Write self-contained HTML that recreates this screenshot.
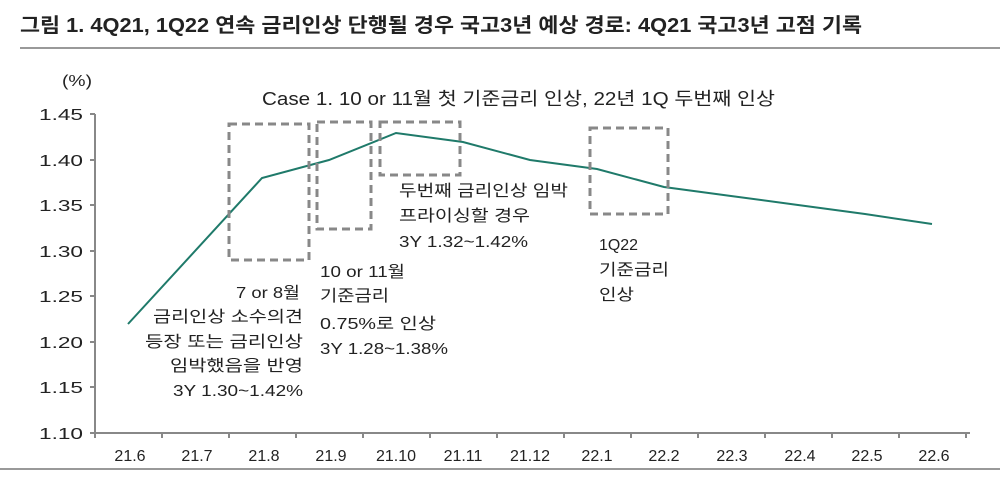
<!DOCTYPE html>
<html><head><meta charset="utf-8"><style>
body{margin:0;background:#fff;width:1000px;height:479px;overflow:hidden}
svg text{font-family:"Liberation Sans","Noto Sans CJK KR",sans-serif;fill:#222}
</style></head><body>
<svg width="1000" height="479" viewBox="0 0 1000 479">
<text x="20" y="32" font-size="20" font-weight="bold" fill="#111" textLength="842" lengthAdjust="spacingAndGlyphs">그림 1. 4Q21, 1Q22 연속 금리인상 단행될 경우 국고3년 예상 경로: 4Q21 국고3년 고점 기록</text>
<line x1="20" y1="48" x2="1000" y2="48" stroke="#999" stroke-width="2"/>
<line x1="0" y1="469" x2="1000" y2="469" stroke="#999" stroke-width="2"/>
<text x="62" y="86" font-size="16" fill="#444" textLength="30" lengthAdjust="spacingAndGlyphs">(%)</text>
<text x="262" y="105" font-size="18" textLength="513" lengthAdjust="spacingAndGlyphs">Case 1. 10 or 11월 첫 기준금리 인상, 22년 1Q 두번째 인상</text>
<g stroke="#888" stroke-width="2" fill="none">
<line x1="95" y1="114" x2="95" y2="433"/>
<line x1="95" y1="433" x2="970" y2="433"/>
</g>
<g stroke="#888" stroke-width="2">
<line x1="90" y1="114" x2="95" y2="114"/><line x1="90" y1="160" x2="95" y2="160"/><line x1="90" y1="205" x2="95" y2="205"/><line x1="90" y1="251" x2="95" y2="251"/><line x1="90" y1="296" x2="95" y2="296"/><line x1="90" y1="342" x2="95" y2="342"/><line x1="90" y1="387" x2="95" y2="387"/><line x1="90" y1="433" x2="95" y2="433"/>
<line x1="95" y1="433" x2="95" y2="438"/><line x1="162" y1="433" x2="162" y2="438"/><line x1="229" y1="433" x2="229" y2="438"/><line x1="296" y1="433" x2="296" y2="438"/><line x1="363" y1="433" x2="363" y2="438"/><line x1="430" y1="433" x2="430" y2="438"/><line x1="497" y1="433" x2="497" y2="438"/><line x1="564" y1="433" x2="564" y2="438"/><line x1="631" y1="433" x2="631" y2="438"/><line x1="698" y1="433" x2="698" y2="438"/><line x1="765" y1="433" x2="765" y2="438"/><line x1="832" y1="433" x2="832" y2="438"/><line x1="899" y1="433" x2="899" y2="438"/><line x1="966" y1="433" x2="966" y2="438"/>
</g>
<g font-size="16">
<text x="39" y="120" textLength="44" lengthAdjust="spacingAndGlyphs">1.45</text><text x="39" y="166" textLength="44" lengthAdjust="spacingAndGlyphs">1.40</text><text x="39" y="211" textLength="44" lengthAdjust="spacingAndGlyphs">1.35</text><text x="39" y="257" textLength="44" lengthAdjust="spacingAndGlyphs">1.30</text><text x="39" y="302" textLength="44" lengthAdjust="spacingAndGlyphs">1.25</text><text x="39" y="348" textLength="44" lengthAdjust="spacingAndGlyphs">1.20</text><text x="39" y="393" textLength="44" lengthAdjust="spacingAndGlyphs">1.15</text><text x="39" y="439" textLength="44" lengthAdjust="spacingAndGlyphs">1.10</text>
</g>
<g font-size="16" text-anchor="middle">
<text x="130" y="461">21.6</text><text x="197" y="461">21.7</text><text x="264" y="461">21.8</text><text x="331" y="461">21.9</text><text x="396" y="461">21.10</text><text x="463" y="461">21.11</text><text x="530" y="461">21.12</text><text x="597" y="461">22.1</text><text x="664" y="461">22.2</text><text x="732" y="461">22.3</text><text x="800" y="461">22.4</text><text x="867" y="461">22.5</text><text x="934" y="461">22.6</text>
</g>
<polyline fill="none" stroke="#1f7a6a" stroke-width="2" points="128,324 262,178 329,160 396,133 463,142 530,160 597,169 664,187 731,196 798,205 865,214 932,224"/>
<g fill="none" stroke="#888" stroke-width="3" stroke-dasharray="8,5">
<rect x="229" y="124" width="80" height="136"/>
<rect x="317" y="122" width="54" height="107"/>
<rect x="380" y="122" width="80" height="53"/>
<rect x="590" y="128" width="78" height="86"/>
</g>
<g font-size="16">
<text x="236" y="298" textLength="64" lengthAdjust="spacingAndGlyphs">7 or 8월</text><text x="153" y="322" textLength="150" lengthAdjust="spacingAndGlyphs">금리인상 소수의견</text><text x="145" y="347" textLength="158" lengthAdjust="spacingAndGlyphs">등장 또는 금리인상</text><text x="170" y="371" textLength="133" lengthAdjust="spacingAndGlyphs">임박했음을 반영</text><text x="173" y="396" textLength="130" lengthAdjust="spacingAndGlyphs">3Y 1.30~1.42%</text>
<text x="320" y="277" textLength="85" lengthAdjust="spacingAndGlyphs">10 or 11월</text><text x="320" y="301" textLength="69" lengthAdjust="spacingAndGlyphs">기준금리</text><text x="320" y="329" textLength="116" lengthAdjust="spacingAndGlyphs">0.75%로 인상</text><text x="320" y="354" textLength="128" lengthAdjust="spacingAndGlyphs">3Y 1.28~1.38%</text>
<text x="399" y="196" textLength="169" lengthAdjust="spacingAndGlyphs">두번째 금리인상 임박</text><text x="399" y="221" textLength="131" lengthAdjust="spacingAndGlyphs">프라이싱할 경우</text><text x="399" y="247" textLength="129" lengthAdjust="spacingAndGlyphs">3Y 1.32~1.42%</text>
<text x="599" y="250" textLength="39" lengthAdjust="spacingAndGlyphs">1Q22</text><text x="599" y="275" textLength="70" lengthAdjust="spacingAndGlyphs">기준금리</text><text x="599" y="300" textLength="35" lengthAdjust="spacingAndGlyphs">인상</text>
</g>
</svg>
</body></html>
